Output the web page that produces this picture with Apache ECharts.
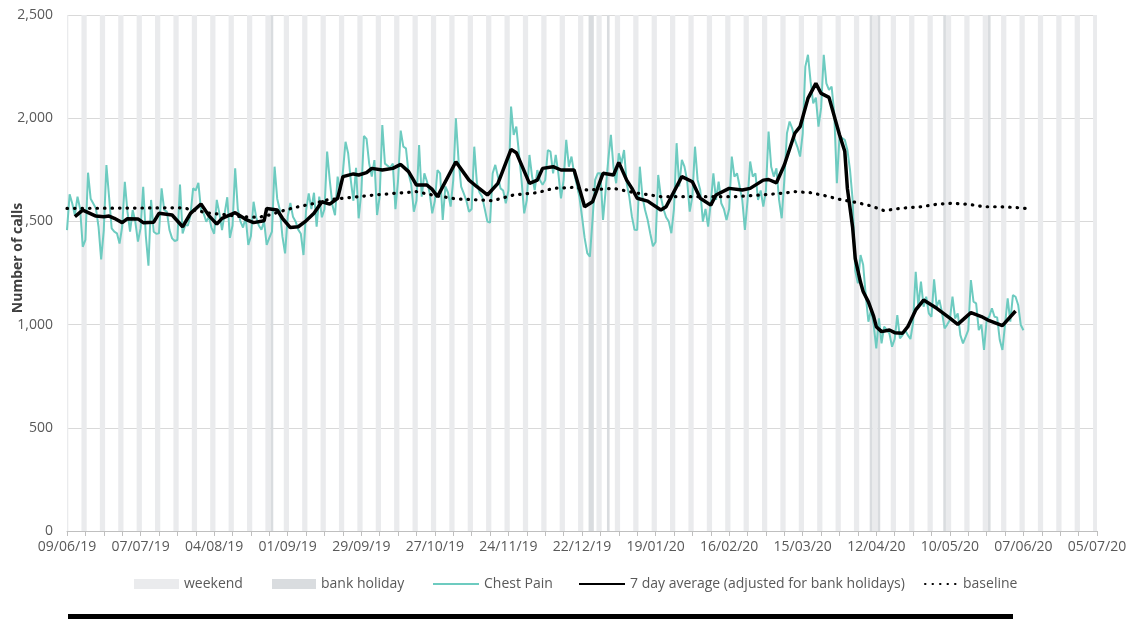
<!DOCTYPE html>
<html>
<head>
<meta charset="utf-8">
<script src="https://cdn.jsdelivr.net/npm/echarts@6/dist/echarts.min.js"></script>
<style>
  html, body { margin: 0; padding: 0; background: #fff; }
  #chart { width: 1142px; height: 619px; }
</style>
</head>
<body>
<div id="chart"></div>
<script>
// day 0 = Sunday 09/06/2019, one value per day
const startDate = Date.UTC(2019, 5, 9)
const axisDays = 392 // to 05/07/2020

const chestPain = [
  1458, 1631, 1587, 1530, 1620, 1560, 1377,
  1410, 1736, 1610, 1587, 1563, 1474, 1316,
  1458, 1773, 1620, 1466, 1450, 1442, 1393,
  1474, 1692, 1547, 1450, 1555, 1498, 1402,
  1466, 1668, 1430, 1285, 1604, 1450, 1440,
  1442, 1660, 1555, 1547, 1458, 1418, 1405,
  1410, 1679, 1442, 1482, 1480, 1530, 1660,
  1650, 1687, 1555, 1539, 1498, 1523, 1470,
  1440, 1604, 1539, 1458, 1539, 1617, 1420,
  1480, 1757, 1560, 1500, 1470, 1520, 1386,
  1430, 1595, 1520, 1480, 1460, 1500, 1386,
  1420, 1450, 1765, 1610, 1555, 1426, 1345,
  1523, 1589, 1523, 1500, 1460, 1440, 1337,
  1555, 1636, 1560, 1639, 1474, 1620, 1520,
  1560, 1838, 1700, 1580, 1530, 1717, 1650,
  1740, 1886, 1830, 1700, 1600, 1760, 1515,
  1640, 1914, 1900, 1780, 1717, 1797, 1531,
  1620, 1967, 1780, 1770, 1760, 1780, 1559,
  1700, 1940, 1862, 1854, 1733, 1680, 1547,
  1600, 1870, 1620, 1733, 1693, 1640, 1539,
  1600, 1749, 1733, 1507, 1669, 1640, 1572,
  1700, 2000, 1798, 1669, 1636, 1600, 1547,
  1560, 1862, 1685, 1640, 1620, 1560, 1499,
  1494, 1733, 1774, 1717, 1660, 1650, 1588,
  1650, 2056, 1919, 1959, 1830, 1700, 1539,
  1604, 1822, 1717, 1652, 1749, 1700, 1677,
  1700, 1846, 1838, 1733, 1822, 1733, 1612,
  1700, 1895, 1765, 1814, 1733, 1677, 1620,
  1523, 1420, 1346, 1329, 1507, 1701, 1733,
  1733, 1507, 1650, 1800, 1919, 1760, 1685,
  1830, 1780, 1846, 1685, 1620, 1523, 1459,
  1458, 1765, 1620, 1555, 1507, 1440, 1380,
  1400, 1725, 1620, 1560, 1520, 1500, 1443,
  1560, 1879, 1669, 1798, 1765, 1700, 1547,
  1620, 1862, 1701, 1652, 1499, 1560, 1475,
  1588, 1733, 1604, 1693, 1588, 1560, 1507,
  1560, 1814, 1717, 1733, 1669, 1604, 1459,
  1600, 1790, 1717, 1733, 1604, 1650, 1572,
  1650, 1935, 1765, 1717, 1757, 1604, 1515,
  1700, 1927, 1984, 1951, 1895, 1860, 1814,
  1927, 2250, 2307, 2177, 2072, 2100, 1959,
  2050, 2307, 2169, 2137, 2153, 2024, 1685,
  1911, 1903, 1895, 1846, 1750, 1604, 1260,
  1200, 1337, 1290, 1140, 1014, 1070, 1000,
  885, 1030, 909, 990, 973, 957, 893,
  930, 1046, 933, 949, 973, 949, 930,
  1010, 1256, 1087, 1208, 1087, 1135, 1054,
  1038, 1219, 1087, 1119, 1060, 982, 1000,
  1022, 1135, 1030, 1054, 949, 909, 940,
  973, 1216, 1111, 1103, 973, 1000, 877,
  1022, 1040, 1079, 1038, 1035, 925, 877,
  1000, 1127, 1014, 1143, 1135, 1095, 998,
  973,
]

// 7 day average, read at these days
const avgDays = [
  3, 6, 11, 14, 16, 18, 21, 23, 27, 29, 33, 35, 40, 44, 47, 51, 54, 57, 59, 64,
  68, 71, 75, 76, 80, 82, 85, 88, 91, 94, 97, 100, 103, 105, 109, 111, 114, 116,
  120, 124, 127, 130, 133, 137, 139, 141, 148, 153, 156, 160, 164, 169, 171, 176,
  179, 181, 185, 188, 193, 197, 200, 204, 208, 210, 213, 215, 217, 221, 226, 228,
  234, 238, 241, 245, 247, 252, 257, 260, 265, 267, 270, 273, 277, 279, 282, 285,
  287, 290, 294, 296, 297, 299, 300, 302, 303, 305, 307, 308, 310, 313, 315, 318,
  320, 323, 326, 331, 336, 339, 344, 348, 351, 356, 361,
]
const avgValues = [
  1523, 1555, 1526, 1523, 1526, 1515, 1494, 1513, 1512, 1494, 1496, 1539, 1531, 1474, 1539, 1584, 1528, 1487, 1515, 1542,
  1510, 1494, 1503, 1563, 1555, 1515, 1470, 1474, 1503, 1539, 1595, 1584, 1612, 1717, 1730, 1725, 1736, 1757,
  1749, 1757, 1776, 1741, 1676, 1676, 1655, 1620, 1789, 1700, 1668, 1628, 1684, 1849, 1833, 1684,
  1700, 1757, 1765, 1749, 1749, 1571, 1595, 1733, 1725, 1786, 1700, 1660, 1612, 1598, 1555, 1571,
  1717, 1692, 1612, 1579, 1628, 1660, 1652, 1660, 1700, 1703, 1687, 1773, 1927, 1959, 2096, 2169,
  2120, 2101, 1920, 1840, 1660, 1470, 1320, 1205, 1160, 1110, 1040, 990, 966, 974, 961, 958,
  990, 1071, 1119, 1079, 1031, 1001, 1058, 1039, 1019, 995, 1066,
]

const baseDays = [
  0, 44, 54, 61, 66, 73, 77, 83, 88, 94, 99, 105, 111, 117, 125, 133, 139, 148, 157, 162,
  170, 179, 185, 193, 198, 208, 216, 226, 234, 244, 254, 264, 272, 277, 283, 289, 294, 301,
  306, 311, 317, 325, 331, 337, 343, 349, 355, 360, 365,
]
const baseValues = [
  1563, 1566, 1540, 1531, 1523, 1520, 1531, 1555, 1571, 1587, 1604, 1612, 1620, 1628, 1636, 1644, 1628, 1609, 1604, 1600,
  1628, 1639, 1660, 1665, 1652, 1660, 1639, 1620, 1620, 1620, 1620, 1628, 1636, 1644, 1639, 1623, 1607, 1590,
  1575, 1552, 1563, 1571, 1583, 1588, 1583, 1571, 1571, 1568, 1563,
]

const bankHolidays = ['2019-08-26', '2019-12-25', '2019-12-26', '2020-01-01', '2020-04-10', '2020-04-13', '2020-05-08', '2020-05-25']

const DAY = 24 * 3600 * 1000
const dayOf = (s) => Math.round((Date.parse(s) - startDate) / DAY)

// group consecutive days into [first, last] runs so each band is one rect
const toRuns = (days) => {
  const runs = []
  days.forEach((d) => {
    const last = runs[runs.length - 1]
    if (last && last[1] === d - 1) last[1] = d
    else runs.push([d, d])
  })
  return runs
}
const weekendDays = []
for (let d = 0; d <= axisDays; d++) {
  const wd = new Date(startDate + d * DAY).getUTCDay()
  if (wd === 0 || wd === 6) weekendDays.push(d)
}
const bankDays = bankHolidays.map(dayOf)

const colors = {
  weekend: '#eaebed',
  bank: '#d9dcdf',
  chest: '#6dcbc0',
  avg: '#000',
  text: '#595959',
}
const font = "'Open Sans', sans-serif"

const band = (color) => (params, api) => {
  const p0 = api.coord([api.value(0) - 0.5, 2500])
  const p1 = api.coord([api.value(1) + 0.5, 0])
  return {
    type: 'rect',
    shape: { x: p0[0], y: p0[1], width: p1[0] - p0[0], height: p1[1] - p0[1] },
    style: { fill: color },
  }
}

const fmtDay = (v) => {
  const dt = new Date(startDate + v * DAY)
  const p = (n) => String(n).padStart(2, '0')
  return p(dt.getUTCDate()) + '/' + p(dt.getUTCMonth() + 1) + '/' + String(dt.getUTCFullYear()).slice(2)
}

const legendItem = (name, left, width, icon) => ({
  data: [icon ? { name, icon } : { name, itemStyle: { opacity: 0 } }],
  left,
  top: 577,
  padding: 0,
  itemWidth: width,
  itemHeight: 10,
  itemGap: 0,
  textStyle: { color: colors.text, fontFamily: font, fontSize: 14 },
  selectedMode: false,
})

const ec = echarts.init(document.getElementById('chart'))
ec.setOption({
  animation: false,
  grid: { left: 67, right: 45, top: 15, bottom: 88 },
  xAxis: {
    type: 'value',
    min: 0,
    max: axisDays,
    interval: 7,
    axisLine: { show: true, lineStyle: { color: '#bfbfbf' } },
    axisTick: { show: true, length: 5, lineStyle: { color: '#bfbfbf' } },
    splitLine: { show: false },
    axisLabel: {
      color: colors.text,
      fontFamily: font,
      fontSize: 14,
      margin: 9,
      formatter: (v) => (v % 28 === 0 ? fmtDay(v) : ''),
    },
  },
  yAxis: {
    type: 'value',
    min: 0,
    max: 2500,
    interval: 500,
    axisLine: { show: false },
    axisTick: { show: false },
    splitLine: { lineStyle: { color: '#d9d9d9' } },
    axisLabel: {
      color: colors.text,
      fontFamily: font,
      fontSize: 14,
      margin: 14,
      formatter: (v) => v.toLocaleString('en-GB'),
    },
  },
  legend: [
    legendItem('weekend', 134, 45, 'rect'),
    legendItem('bank holiday', 272, 44, 'rect'),
    legendItem('Chest Pain', 432, 46),
    legendItem('7 day average (adjusted for bank holidays)', 578, 46),
    legendItem('baseline', 924, 33),
  ],
  graphic: [
    {
      type: 'text',
      x: 18,
      y: 258,
      rotation: Math.PI / 2,
      style: {
        text: 'Number of calls',
        fill: '#404040',
        font: "bold 14px 'Open Sans', sans-serif",
        align: 'center',
        verticalAlign: 'middle',
      },
    },
    { type: 'rect', left: 68, top: 614, shape: { width: 945, height: 5 }, style: { fill: '#000' } },
  ],
  series: [
    {
      name: 'weekend',
      type: 'custom',
      clip: true,
      silent: true,
      itemStyle: { color: colors.weekend },
      data: toRuns(weekendDays),
      renderItem: band(colors.weekend),
      z: 1,
    },
    {
      name: 'bank holiday',
      type: 'custom',
      clip: true,
      silent: true,
      itemStyle: { color: colors.bank },
      data: toRuns(bankDays),
      renderItem: band(colors.bank),
      z: 1,
    },
    {
      name: 'Chest Pain',
      type: 'line',
      symbol: 'none',
      data: chestPain.map((v, i) => [i, v]),
      lineStyle: { color: colors.chest, width: 2 },
      itemStyle: { color: colors.chest },
      z: 3,
    },
    {
      name: '7 day average (adjusted for bank holidays)',
      type: 'line',
      symbol: 'none',
      data: avgDays.map((d, i) => [d, avgValues[i]]),
      lineStyle: { color: colors.avg, width: 3.5 },
      itemStyle: { color: colors.avg },
      z: 4,
    },
    {
      name: 'baseline',
      type: 'line',
      symbol: 'none',
      data: baseDays.map((d, i) => [d, baseValues[i]]),
      lineStyle: { color: '#000', width: 3.2, type: [0.5, 7], cap: 'round' },
      itemStyle: { color: '#000' },
      z: 4,
    },
  ],
})
</script>
</body>
</html>
